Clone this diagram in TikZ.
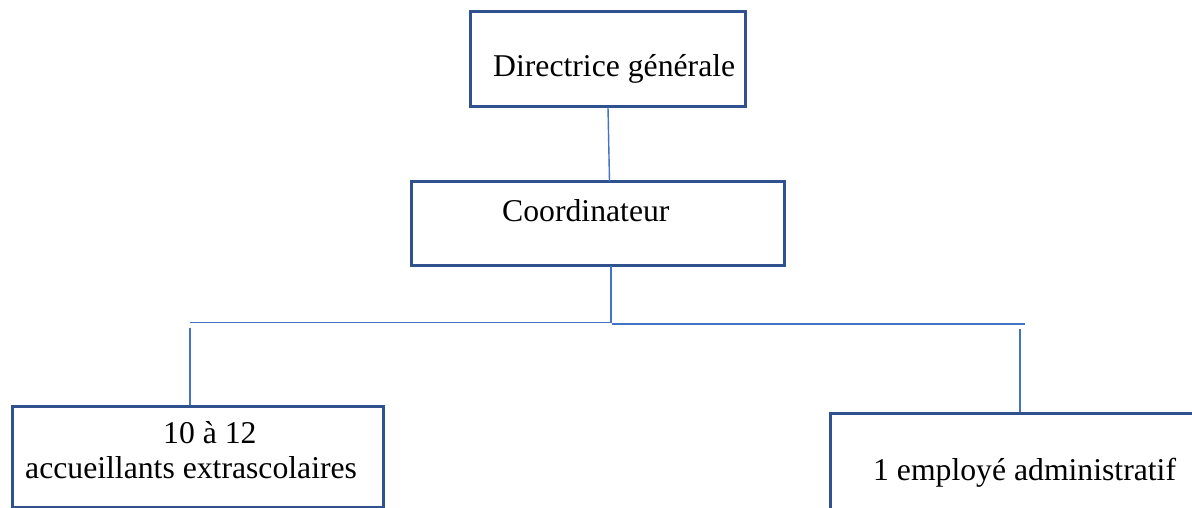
\documentclass[tikz,border=0pt]{standalone}
\usepackage{fontspec}
\setmainfont{Liberation Serif}
\usetikzlibrary{calc}

\definecolor{boxblue}{HTML}{2F528F}
\definecolor{linkblue}{HTML}{4472C4}

\tikzset{
  orgbox/.style={draw=boxblue, line width=3pt, fill=none, inner sep=0pt, rectangle},
  conn/.style={draw=linkblue, line width=1.4pt},
  lbl/.style={inner sep=0pt, anchor=base west, font=\fontsize{31.7}{38}\selectfont, text=black}
}

\begin{document}
\begin{tikzpicture}[x=1pt, y=-1pt]
  \useasboundingbox (0,0) rectangle (1192,508);
  \fill[white] (0,0) rectangle (1192,508);
  \clip (0,0) rectangle (1192,508);

  % boxes
  \node[orgbox, minimum width=275pt, minimum height=95pt] (dg) at (607.5,59.5) {};
  \node[orgbox, minimum width=373pt, minimum height=83pt] (co) at (597.5,223.5) {};
  \node[orgbox, minimum width=371pt, minimum height=101pt] (ae) at (197.5,456.5) {};
  \node[orgbox, minimum width=370pt, minimum height=107pt] (ea) at (1015,466.5) {};

  % labels
  \node[lbl] (dgt) at (493,77) {Directrice générale};
  \node[lbl] (cot) at (502,222) {Coordinateur};
  \node[lbl] (aet1) at (163,443) {10 à 12};
  \node[lbl] (aet2) at (25,478) {accueillants extrascolaires};
  \node[lbl] (eat) at (873,480) {1 employé administratif};

  % branch points
  \coordinate (jn) at (611,322.5);
  \coordinate (jl) at (190,322.5);
  \coordinate (jr0) at (612,324);
  \coordinate (jr) at (1025,324);
  \coordinate (dl) at (190,328);
  \coordinate (dr) at (1020,329);

  % connectors
  \draw[conn] ($(dg.south)+(0.5,-1)$) -- ($(co.north)+(12,1)$);
  \draw[conn] ($(co.south)+(13.5,-1)$) -- (jn);
  \draw[conn] (jl) -- (jn);
  \draw[conn] (jr0) -- (jr);
  \draw[conn] (dl) -- (ae.north -| dl);
  \draw[conn] (dr) -- (ea.north -| dr);
\end{tikzpicture}
\end{document}
